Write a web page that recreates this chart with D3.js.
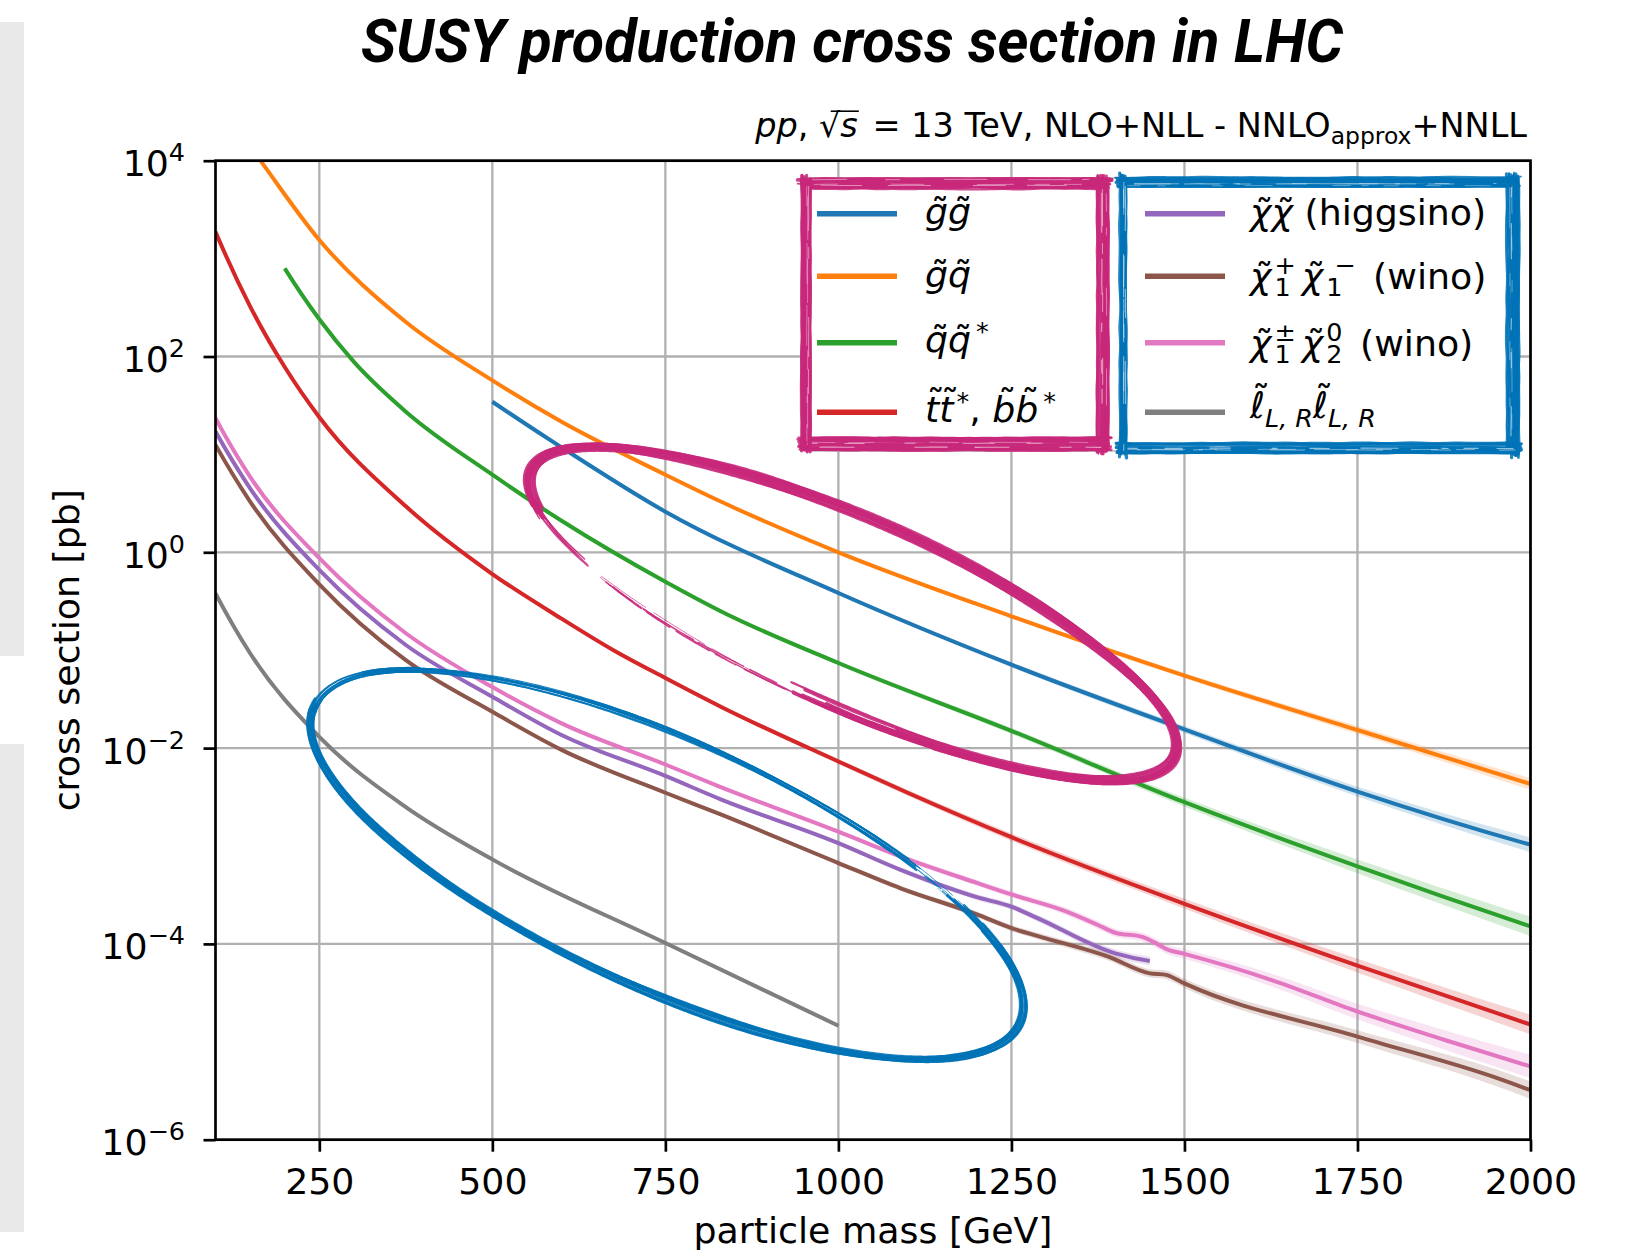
<!DOCTYPE html>
<html>
<head>
<meta charset="utf-8">
<script src="https://cdn.jsdelivr.net/npm/d3@7"></script>
<style>
  body { margin: 0; background: #fff; }
  svg { display: block; }
  text { font-family: "DejaVu Sans", sans-serif; fill: #000; white-space: pre; }
</style>
</head>
<body>
<svg id="chart" width="1628" height="1253"></svg>
<script>
// ---- data: [mass GeV, cross section pb, band half-width in decades] ----
const massTicks = [250, 500, 750, 1000, 1250, 1500, 1750, 2000];
const decadeTicks = [4, 2, 0, -2, -4, -6];

const gluinoPair = [
  [500, 34.5, 0.010], [600, 11.8, 0.011], [750, 2.6, 0.013], [1000, 0.384, 0.018],
  [1250, 0.0711, 0.025], [1500, 0.0155, 0.035], [1750, 0.0036, 0.05], [2000, 0.00103, 0.075]
];
const gluinoSquark = [
  [150, 14000, 0.008], [165, 10000, 0.008], [250, 1550, 0.008], [375, 225, 0.009],
  [500, 57, 0.010], [600, 21.5, 0.011], [750, 6.2, 0.012], [830, 3.3, 0.013],
  [1000, 1.0, 0.016], [1250, 0.222, 0.02], [1500, 0.055, 0.027], [1750, 0.0153, 0.04], [2000, 0.0043, 0.06]
];
const squarkPair = [
  [200, 795, 0.01], [250, 240, 0.01], [300, 88, 0.01], [375, 27.3, 0.011], [500, 6.2, 0.012],
  [600, 2.1, 0.013], [750, 0.5, 0.015], [830, 0.25, 0.017], [1000, 0.074, 0.022],
  [1250, 0.0150, 0.03], [1500, 0.0028, 0.045], [1750, 0.00062, 0.07], [2000, 0.000151, 0.10]
];
const stopPair = [
  [100, 1880, 0.01], [150, 325, 0.01], [200, 78, 0.01], [250, 24, 0.01], [375, 2.95, 0.012],
  [500, 0.6, 0.013], [600, 0.21, 0.015], [675, 0.1, 0.016], [750, 0.052, 0.018], [830, 0.0265, 0.02],
  [1000, 0.0073, 0.025], [1100, 0.0035, 0.03], [1250, 0.00123, 0.038], [1500, 0.000257, 0.05],
  [1750, 6.0e-5, 0.07], [2000, 1.5e-5, 0.10]
];
const higgsinoPair = [
  [100, 17.1, 0.01], [150, 4.5, 0.01], [250, 0.66, 0.01], [375, 0.113, 0.012], [500, 0.0335, 0.013],
  [600, 0.0136, 0.014], [750, 0.0052, 0.016], [830, 0.0030, 0.018], [1000, 0.00107, 0.022],
  [1090, 5.7e-4, 0.025], [1200, 3.0e-4, 0.03], [1250, 2.4e-4, 0.032], [1290, 1.8e-4, 0.034],
  [1400, 8.0e-5, 0.04], [1450, 6.7e-5, 0.045]
];
const winoCharginoPair = [
  [100, 12.5, 0.01], [150, 3.3, 0.01], [250, 0.47, 0.01], [375, 0.079, 0.012], [500, 0.0235, 0.013],
  [600, 0.0096, 0.014], [750, 0.0035, 0.016], [830, 0.0021, 0.018], [1000, 6.7e-4, 0.022],
  [1090, 3.7e-4, 0.025], [1200, 2.0e-4, 0.03], [1250, 1.45e-4, 0.032], [1300, 1.14e-4, 0.035],
  [1390, 7.4e-5, 0.04], [1450, 5.0e-5, 0.043], [1475, 4.8e-5, 0.045], [1500, 3.95e-5, 0.047],
  [1750, 1.13e-5, 0.065], [1950, 4.3e-6, 0.085], [2000, 3.2e-6, 0.09]
];
const winoChargNeut = [
  [100, 23.4, 0.01], [150, 5.9, 0.01], [250, 0.87, 0.01], [375, 0.149, 0.012], [500, 0.042, 0.013],
  [600, 0.0179, 0.014], [750, 0.0068, 0.016], [830, 0.0040, 0.018], [1000, 0.0014, 0.022],
  [1090, 7.8e-4, 0.025], [1200, 4.2e-4, 0.03], [1250, 3.2e-4, 0.032], [1325, 2.2e-4, 0.036],
  [1375, 1.56e-4, 0.04], [1400, 1.3e-4, 0.042], [1440, 1.17e-4, 0.045], [1455, 1.05e-4, 0.046],
  [1475, 8.8e-5, 0.048], [1500, 7.9e-5, 0.05], [1625, 4.3e-5, 0.065], [1750, 2.04e-5, 0.08],
  [1875, 1.05e-5, 0.1], [2000, 5.6e-6, 0.12]
];
const sleptonPair = [
  [100, 0.38, 0.01], [150, 0.093, 0.01], [250, 0.013, 0.011], [375, 0.0025, 0.012],
  [500, 7.3e-4, 0.013], [750, 1.02e-4, 0.016], [1000, 1.46e-5, 0.02]
];

const series = [
  { data: gluinoPair,       color: "#1f77b4" },
  { data: gluinoSquark,     color: "#ff7f0e" },
  { data: squarkPair,       color: "#2ca02c" },
  { data: stopPair,         color: "#d62728" },
  { data: higgsinoPair,     color: "#9467bd" },
  { data: winoCharginoPair, color: "#8c564b" },
  { data: winoChargNeut,    color: "#e377c2" },
  { data: sleptonPair,      color: "#7f7f7f" }
];

// hand-drawn highlight loops, centred in data coordinates
const highlightLoops = [
  { mass: 1021, xsec: 0.237, rx: 352, ry: 94, rot: 24.0, color: "#c8287a",
    strokes: [
      { t0: 2.77, t1: 7.72, passes: 16, spread: 10, wobble: 1.8, wMin: 1.4, wMax: 3.6, op: 0.9, j0: 0.12, j1: 0.5 },
      { t0: 2.43, t1: 2.85, passes: 6, spread: 7, wobble: 1.5, wMin: 0.8, wMax: 2.2, op: 0.85 },
      { t0: 1.44, t1: 2.32, passes: 5, spread: 7, wobble: 1.5, wMin: 0.6, wMax: 1.6, op: 0.85, dash: true }
    ] },
  { mass: 752, xsec: 6.5e-4, rx: 386, ry: 124, rot: 24.25, color: "#0073b7",
    strokes: [
      { t0: 5.63, t1: 9.45, passes: 13, spread: 8, wobble: 1.5, wMin: 1.2, wMax: 3.0, op: 0.9, j0: 0.3, j1: 0.12 },
      { t0: 3.1, t1: 3.8, passes: 9, spread: 7, wobble: 1.3, wMin: 0.9, wMax: 2.4, op: 0.9 },
      { t0: 3.6, t1: 5.3, passes: 9, spread: 6, wobble: 1.4, wMin: 0.8, wMax: 2.0, op: 0.9 },
      { t0: 5.2, t1: 5.7, passes: 5, spread: 6, wobble: 1.0, wMin: 0.5, wMax: 1.2, op: 0.8, dash: true }
    ] }
];

// ---- layout ----
const svg = d3.select("#chart");
const M = { left: 215.5, right: 1530.5, top: 160.7, bottom: 1139.7 };
const x = d3.scaleLinear().domain([100, 2000]).range([M.left, M.right]);
const y = d3.scaleLog().domain([1e-6, 1e4]).range([M.bottom, M.top]);
const FS = 36.3;      // axis and tick text
const LFS = 36.3;     // legend text

// Smooth C1 curve through the points, tangents from local parabolas (Bessel),
// so curvature is kept right up to the end points.
function BesselCurve(context) { this._context = context; }
BesselCurve.prototype = {
  areaStart() { this._line = 0; },
  areaEnd() { this._line = NaN; },
  lineStart() { this._x = []; this._y = []; },
  point(px, py) { this._x.push(+px); this._y.push(+py); },
  lineEnd() {
    const xs = this._x, ys = this._y, n = xs.length, c = this._context;
    if (n) {
      this._line ? c.lineTo(xs[0], ys[0]) : c.moveTo(xs[0], ys[0]);
      if (n === 2) c.lineTo(xs[1], ys[1]);
      else if (n > 2) {
        const h = [], s = [], d = new Array(n);
        for (let i = 0; i < n - 1; i++) { h.push(xs[i + 1] - xs[i]); s.push((ys[i + 1] - ys[i]) / h[i]); }
        d[0] = ((2 * h[0] + h[1]) * s[0] - h[0] * s[1]) / (h[0] + h[1]);
        d[n - 1] = ((2 * h[n - 2] + h[n - 3]) * s[n - 2] - h[n - 2] * s[n - 3]) / (h[n - 2] + h[n - 3]);
        for (let i = 1; i < n - 1; i++) d[i] = (h[i] * s[i - 1] + h[i - 1] * s[i]) / (h[i - 1] + h[i]);
        for (let i = 0; i < n - 1; i++) {
          const dx = h[i] / 3;
          c.bezierCurveTo(xs[i] + dx, ys[i] + d[i] * dx, xs[i + 1] - dx, ys[i + 1] - d[i + 1] * dx, xs[i + 1], ys[i + 1]);
        }
      }
    }
    if (this._line || (this._line !== 0 && n === 1)) c.closePath();
    this._line = 1 - this._line;
    this._x = this._y = null;
  }
};
const curveBessel = ctx => new BesselCurve(ctx);

// deterministic generator for the brush texture of the sketched shapes
function makeRng(seed) {
  let s = seed >>> 0;
  return () => { s = (Math.imul(s, 1664525) + 1013904223) >>> 0; return s / 4294967296; };
}
const rnd = makeRng(20240607);

function draw() {
  // page-side grey bars
  svg.append("rect").attr("x", 0).attr("y", 22).attr("width", 24).attr("height", 634).attr("fill", "#e9e9e9");
  svg.append("rect").attr("x", 0).attr("y", 744).attr("width", 24).attr("height", 488).attr("fill", "#e9e9e9");

  // title
  svg.append("text").attr("x", 852).attr("y", 62).attr("text-anchor", "middle")
    .style("font-family", "Roboto, sans-serif").attr("font-size", 61)
    .attr("font-weight", 700).attr("font-style", "italic")
    .attr("textLength", 982).attr("lengthAdjust", "spacingAndGlyphs")
    .text("SUSY production cross section in LHC");

  // grid
  const grid = svg.append("g");
  grid.selectAll("line.vx").data(massTicks).join("line")
    .attr("x1", d => x(d)).attr("x2", d => x(d)).attr("y1", M.top).attr("y2", M.bottom)
    .attr("stroke", "#b0b0b0").attr("stroke-width", 2.3);
  grid.selectAll("line.hy").data(decadeTicks).join("line")
    .attr("y1", d => y(Math.pow(10, d))).attr("y2", d => y(Math.pow(10, d))).attr("x1", M.left).attr("x2", M.right)
    .attr("stroke", "#b0b0b0").attr("stroke-width", 2.3);

  // curves and uncertainty bands
  svg.append("clipPath").attr("id", "plotClip").append("rect")
    .attr("x", M.left).attr("y", M.top).attr("width", M.right - M.left).attr("height", M.bottom - M.top);
  const plot = svg.append("g").attr("clip-path", "url(#plotClip)");
  const area = d3.area().curve(curveBessel)
    .x(d => x(d[0])).y0(d => y(d[1] / Math.pow(10, d[2]))).y1(d => y(d[1] * Math.pow(10, d[2])));
  const line = d3.line().curve(curveBessel).x(d => x(d[0])).y(d => y(d[1]));
  series.forEach(s => {
    plot.append("path").attr("d", area(s.data)).attr("fill", s.color).attr("fill-opacity", 0.2);
  });
  series.forEach(s => {
    plot.append("path").attr("d", line(s.data)).attr("fill", "none").attr("stroke", s.color)
      .attr("stroke-width", 4).attr("stroke-linejoin", "round");
  });

  // hand-drawn loops
  const loops = svg.append("g");
  highlightLoops.forEach(L => sketchLoop(loops, L));

  // axes
  const xAxis = svg.append("g").attr("transform", `translate(0,${M.bottom})`)
    .call(d3.axisBottom(x).tickValues(massTicks).tickSize(12).tickSizeOuter(0).tickFormat(""));
  const yAxis = svg.append("g").attr("transform", `translate(${M.left},0)`)
    .call(d3.axisLeft(y).tickValues(decadeTicks.map(e => Math.pow(10, e))).tickSize(12).tickSizeOuter(0).tickFormat(""));
  [xAxis, yAxis].forEach(a => {
    a.select(".domain").remove();
    a.selectAll(".tick line").attr("stroke", "#000").attr("stroke-width", 2.7);
  });
  xAxis.selectAll(".tick").append("text").attr("y", 54).attr("text-anchor", "middle")
    .attr("font-size", FS).text(d => d);
  yAxis.selectAll(".tick").each(function (d) {
    const e = Math.round(Math.log10(d));
    const t = d3.select(this).append("text").attr("x", -30.5).attr("y", 15)
      .attr("text-anchor", "end").attr("font-size", FS);
    t.append("tspan").text("10");
    t.append("tspan").attr("dy", -15).attr("font-size", FS * 0.7).text(e < 0 ? "\u2212" + (-e) : String(e));
  });

  // frame
  svg.append("rect").attr("x", M.left).attr("y", M.top).attr("width", M.right - M.left).attr("height", M.bottom - M.top)
    .attr("fill", "none").attr("stroke", "#000").attr("stroke-width", 2.7);

  // axis titles
  svg.append("text").attr("x", (M.left + M.right) / 2).attr("y", 1243).attr("text-anchor", "middle")
    .attr("font-size", FS).text("particle mass [GeV]");
  svg.append("text").attr("transform", `translate(79,${(M.top + M.bottom) / 2}) rotate(-90)`)
    .attr("text-anchor", "middle").attr("font-size", FS).text("cross section [pb]");

  // subtitle, right aligned to the frame
  const sub = svg.append("g");
  const subEnd = mathText(sub, 0, 0, [
    { t: "pp", it: true }, { t: ", " }, { t: "\u221A", root: true }, { t: "s", it: true, bar: true, gap: 4 },
    { t: " = 13 TeV, NLO+NLL - NNLO" }, { script: true, sub: "approx", subDown: 7 }, { t: "+NNLL" }
  ], 33.5);
  sub.attr("transform", `translate(${1527 - subEnd},137)`);

  drawLegend();
}

// text with italics, tildes and stacked sub/superscripts, laid out left to right
function mathText(g, x0, base, parts, fs) {
  const small = fs * 0.7;
  let cx = x0, rootStart = null;
  const put = (txt, xx, yy, size, italic) => g.append("text").attr("x", xx).attr("y", yy)
    .attr("font-size", size).attr("font-style", italic ? "italic" : "normal").text(txt);
  for (const p of parts) {
    if (p.script) {
      let w = 0;
      if (p.sup != null) {
        const t = put(p.sup, cx + (p.supDx || 0), base - (p.supUp != null ? p.supUp : 0.4 * fs), small, p.supIt);
        w = Math.max(w, t.node().getComputedTextLength() + (p.supDx || 0));
      }
      if (p.sub != null) {
        const t = put(p.sub, cx + (p.subDx || 0), base + (p.subDown != null ? p.subDown : 0.2 * fs), small, p.subIt);
        w = Math.max(w, t.node().getComputedTextLength() + (p.subDx || 0));
      }
      cx += w + (p.gap || 0);
    } else {
      const t = put(p.t, cx, base, fs, p.it);
      const w = t.node().getComputedTextLength();
      if (p.root) rootStart = cx + w * 0.55;
      if (p.bar && rootStart != null) {
        g.append("line").attr("x1", rootStart).attr("x2", cx + w + 1)
          .attr("y1", base - fs * 0.77).attr("y2", base - fs * 0.77)
          .attr("stroke", "#000").attr("stroke-width", 1.6);
      }
      if (p.tilde) {
        const high = p.tilde === "high";
        put("\u02DC", cx + w / 2 + (p.it ? fs * 0.1 : 0) + (p.tdx || 0),
            base + (high ? -fs * 0.19 : -fs * 0.01), fs, false).attr("text-anchor", "middle");
      }
      cx += w + (p.gap || 0);
    }
  }
  return cx;
}

function drawLegend() {
  const lg = svg.append("g");
  lg.append("rect").attr("x", 805).attr("y", 178).attr("width", 712).attr("height", 273).attr("rx", 6)
    .attr("fill", "#fff").attr("stroke", "#cccccc").attr("stroke-width", 2);

  const rowsY = [213.7, 276.3, 342.7, 412.3];
  const up = 0.42 * LFS, star = 0.33 * LFS, dn = 0.19 * LFS;
  const left = [
    { base: 224, parts: [{ t: "g", it: true, tilde: "low" }, { t: "g", it: true, tilde: "low" }] },
    { base: 287, parts: [{ t: "g", it: true, tilde: "low" }, { t: "q", it: true, tilde: "low" }] },
    { base: 352, parts: [{ t: "q", it: true, tilde: "low" }, { t: "q", it: true, tilde: "low", gap: 5 },
                         { script: true, sup: "*", supUp: star }] },
    { base: 422, parts: [{ t: "t", it: true, tilde: "high" }, { t: "t", it: true, tilde: "high", gap: 3 },
                         { script: true, sup: "*", supUp: star }, { t: ", " }, { t: "b", it: true, tilde: "high" },
                         { t: "b", it: true, tilde: "high", gap: 5 }, { script: true, sup: "*", supUp: star }] }
  ];
  const right = [
    { base: 225, parts: [{ t: "\u03C7", it: true, tilde: "low" }, { t: "\u03C7", it: true, tilde: "low" }, { t: " (higgsino)" }] },
    { base: 289, parts: [{ t: "\u03C7", it: true, tilde: "low", gap: 3 }, { script: true, sup: "+", sub: "1", supUp: up, subDown: dn, gap: 6 },
                         { t: "\u03C7", it: true, tilde: "low", gap: 3 }, { script: true, sup: "\u2212", sub: "1", supUp: up, subDown: dn, supDx: 8, gap: 6 },
                         { t: " (wino)" }] },
    { base: 356, parts: [{ t: "\u03C7", it: true, tilde: "low", gap: 3 }, { script: true, sup: "\u00B1", sub: "1", supUp: up, subDown: dn, gap: 6 },
                         { t: "\u03C7", it: true, tilde: "low", gap: 3 }, { script: true, sup: "0", sub: "2", supUp: up, subDown: dn, gap: 6 },
                         { t: " (wino)" }] },
    { base: 418, parts: [{ t: "\u2113", it: true, tilde: "high" }, { script: true, sub: "L, R", subIt: true, subDown: 9 },
                         { t: "\u2113", it: true, tilde: "high" }, { script: true, sub: "L, R", subIt: true, subDown: 9 }] }
  ];
  left.forEach((r, i) => {
    lg.append("line").attr("x1", 817).attr("x2", 897).attr("y1", rowsY[i]).attr("y2", rowsY[i])
      .attr("stroke", series[i].color).attr("stroke-width", 5.5);
    mathText(lg, 925, r.base, r.parts, LFS);
  });
  right.forEach((r, i) => {
    lg.append("line").attr("x1", 1145).attr("x2", 1225).attr("y1", rowsY[i]).attr("y2", rowsY[i])
      .attr("stroke", series[i + 4].color).attr("stroke-width", 5.5);
    mathText(lg, 1250, r.base, r.parts, LFS);
  });

  sketchBox(lg, { x0: 806, y0: 184, x1: 1103, y1: 444 }, { left: 9, top: 12, right: 13, bottom: 14 }, "#c8287a");
  sketchBox(lg, { x0: 1123.5, y0: 182, x1: 1513, y1: 448 }, { left: 7, top: 10, right: 12, bottom: 10 }, "#0073b7");
}

function loopPoint(L, cx, cy, t, o) {
  const r = L.rot * Math.PI / 180, c = Math.cos(r), s = Math.sin(r);
  const px = (L.rx + o) * Math.cos(t), py = (L.ry + o) * Math.sin(t);
  return [cx + px * c - py * s, cy + px * s + py * c];
}

function sketchLoop(g, L) {
  const cx = x(L.mass), cy = y(L.xsec);
  const pathGen = d3.line().curve(d3.curveBasis);
  L.strokes.forEach(st => {
    const j0 = st.j0 != null ? st.j0 : 0.12, j1 = st.j1 != null ? st.j1 : 0.12;
    for (let i = 0; i < st.passes; i++) {
      const off = (rnd() - 0.5) * st.spread;
      const amp = rnd() * st.wobble, ph = rnd() * 6.283, k = 3 + rnd() * 5;
      const t0 = st.t0 + (rnd() - 0.5) * j0, t1 = st.t1 + (rnd() - 0.5) * j1;
      const pts = [];
      for (let t = t0; t <= t1; t += 0.01) pts.push(loopPoint(L, cx, cy, t, off + amp * Math.sin(k * t + ph)));
      const p = g.append("path").attr("d", pathGen(pts)).attr("fill", "none").attr("stroke", L.color)
        .attr("stroke-width", st.wMin + rnd() * (st.wMax - st.wMin)).attr("stroke-opacity", st.op)
        .attr("stroke-linecap", "round");
      if (st.dash) {
        const segs = [];
        for (let j = 0; j < 14; j++) segs.push(Math.round(10 + rnd() * 50), Math.round(4 + rnd() * 14));
        p.attr("stroke-dasharray", segs.join(" "));
      }
    }
  });
}

function sketchBox(g, r, w, color) {
  const edges = [
    [r.x0 - 3, r.y0, r.x1 + 3, r.y0, w.top],
    [r.x1, r.y0 - 4, r.x1, r.y1 + 4, w.right],
    [r.x0 - 3, r.y1, r.x1 + 3, r.y1, w.bottom],
    [r.x0, r.y0 - 4, r.x0, r.y1 + 4, w.left]
  ];
  const line = d3.line().curve(d3.curveBasis);
  edges.forEach(([ax, ay, bx, by, width]) => {
    const len = Math.hypot(bx - ax, by - ay);
    const ux = (bx - ax) / len, uy = (by - ay) / len, nx = -uy, ny = ux;
    const stroke = (off, e0, e1, jitter) => {
      const pts = [];
      const n = 24;
      for (let j = 0; j <= n; j++) {
        const f = j / n;
        const wob = (rnd() - 0.5) * jitter;
        pts.push([ax - ux * e0 + (bx - ax + ux * (e0 + e1)) * f + nx * (off + wob),
                  ay - uy * e0 + (by - ay + uy * (e0 + e1)) * f + ny * (off + wob)]);
      }
      return line(pts);
    };
    const passes = Math.round(width * 1.6);
    for (let i = 0; i < passes; i++) {
      g.append("path").attr("d", stroke((rnd() - 0.5) * width, (rnd() - 0.4) * 10, (rnd() - 0.4) * 10, 1.4))
        .attr("fill", "none").attr("stroke", color).attr("stroke-width", 1.4 + rnd() * 2.4)
        .attr("stroke-opacity", 0.85).attr("stroke-linecap", "round");
    }
    // dry-brush streaks
    for (let i = 0; i < 3; i++) {
      const segs = [];
      for (let j = 0; j < 10; j++) segs.push(Math.round(6 + rnd() * 40), Math.round(10 + rnd() * 50));
      g.append("path").attr("d", stroke((rnd() - 0.5) * width * 0.8, -rnd() * 20, -rnd() * 20, 0.6))
        .attr("fill", "none").attr("stroke", "#fff").attr("stroke-width", 0.6 + rnd() * 0.6)
        .attr("stroke-opacity", 0.55).attr("stroke-dasharray", segs.join(" "));
    }
  });
}

if (document.fonts && document.fonts.ready) document.fonts.ready.then(draw); else draw();
</script>
</body>
</html>
